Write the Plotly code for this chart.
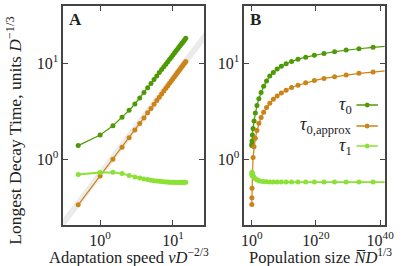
import plotly.graph_objects as go

# ---------------- data ----------------
v_A = [0.5, 1.0, 1.5, 2.0, 2.5, 3.0, 3.5, 4.0, 4.5, 5.0, 5.5, 6.0, 6.5, 7.0, 7.5,
       8.0, 8.5, 9.0, 9.5, 10.0, 10.5, 11.0, 11.5, 12.0, 12.5, 13.0, 13.5, 14.0, 14.5, 15.0]
tau0_A = [1.39, 1.79, 2.24, 2.74, 3.24, 3.77, 4.35, 4.96, 5.56, 6.17, 6.78, 7.38, 8.0, 8.6, 9.2,
          9.8, 10.4, 11.0, 11.6, 12.2, 12.8, 13.4, 14.0, 14.6, 15.2, 15.8, 16.4, 17.0, 17.6, 18.2]
tau0approx_A = [0.336, 0.67, 1.0, 1.34, 1.68, 2.02, 2.36, 2.70, 3.05, 3.39, 3.74, 4.09, 4.44, 4.79, 5.14,
                5.49, 5.84, 6.19, 6.55, 6.90, 7.25, 7.61, 7.96, 8.32, 8.67, 9.03, 9.39, 9.75, 10.1, 10.46]
tau1_A = [0.695, 0.729, 0.733, 0.711, 0.679, 0.655, 0.638, 0.625, 0.615, 0.607, 0.600, 0.594, 0.590, 0.586, 0.583,
          0.581, 0.579, 0.578, 0.577, 0.576, 0.576, 0.575, 0.575, 0.575, 0.575, 0.576, 0.576, 0.577, 0.577, 0.578]
guide_v = [0.2, 40.0]
guide_tau = [0.14, 28.0]

log10_N_B = [0, 0.02, 0.08, 0.2, 0.4, 0.7, 1.1, 1.6, 2.2, 2.9, 3.7, 4.6, 5.6, 6.7, 7.9,
             9.2, 10.7, 12.4, 14.4, 16.8, 19.5, 22.5, 25.8, 29.4, 33.4, 37.8, 42.5]
tau0_B = [1.396, 1.445, 1.549, 1.791, 2.089, 2.512, 3.041, 3.631, 4.266, 4.955, 5.754, 6.531, 7.362, 8.035,
          8.710, 9.311, 9.886, 10.45, 11.04, 11.59, 12.13, 12.65, 13.21, 13.77, 14.19, 14.69, 15.14]
tau0approx_B = [0.339, 0.398, 0.501, 0.676, 1.047, 1.349, 1.660, 1.995, 2.371, 2.723, 3.090, 3.467, 3.846,
                4.217, 4.571, 4.898, 5.248, 5.598, 5.916, 6.266, 6.607, 6.966, 7.244, 7.551, 7.870, 8.110, 8.414]
tau1_B = [0.698, 0.724, 0.733, 0.708, 0.676, 0.649, 0.627, 0.611, 0.600, 0.592, 0.586, 0.583, 0.581, 0.579,
          0.579, 0.579, 0.579, 0.579, 0.579, 0.579, 0.579, 0.579, 0.579, 0.579, 0.579, 0.579, 0.579]
N_B = [10 ** e for e in log10_N_B]

series_names = ["<i>τ</i><sub>0</sub>", "<i>τ</i><sub>0,approx</sub>", "<i>τ</i><sub>1</sub>"]
series_colors = ["#4e9a06", "#cc8418", "#8ae234"]
series_widths = [1.2, 1.2, 1.8]

# ---------------- layout helpers ----------------
W, H = 415, 266
def px(x):
    return x / W
def py(y):
    return 1 - y / H

FONT = "Liberation Serif"
AX = "#444444"
TXT = "#222222"

fig = go.Figure()

fig.add_trace(go.Scatter(x=guide_v, y=guide_tau, mode="lines",
                         line=dict(color="#ebebeb", width=6), xaxis="x", yaxis="y",
                         showlegend=False, hoverinfo="skip"))

A_series = [tau0_A, tau0approx_A, tau1_A]
B_series = [tau0_B, tau0approx_B, tau1_B]
for name, col, lw, ya, yb in zip(series_names, series_colors, series_widths, A_series, B_series):
    fig.add_trace(go.Scatter(x=v_A, y=ya, mode="lines+markers", name=name,
                             line=dict(color=col, width=lw), marker=dict(color=col, size=5),
                             xaxis="x", yaxis="y", showlegend=False))
    fig.add_trace(go.Scatter(x=N_B, y=yb, mode="lines+markers", name=name,
                             line=dict(color=col, width=lw), marker=dict(color=col, size=5),
                             xaxis="x2", yaxis="y2", showlegend=False))

ydom = [py(225), py(6)]
common_axis = dict(type="log", showline=True, linecolor=AX, linewidth=1.5, mirror="allticks",
                   ticks="inside", ticklen=5, tickwidth=1.2, tickcolor=AX, showgrid=False,
                   zeroline=False, tickfont=dict(family=FONT, size=16, color=TXT))

ytickvals = [1, 10]
ytext = ["10<sup>0</sup>", "10<sup>1</sup>"]

fig.update_layout(
    width=W, height=H, margin=dict(l=0, r=0, t=0, b=0),
    paper_bgcolor="white", plot_bgcolor="white",
    font=dict(family=FONT, size=17, color=TXT),
    xaxis=dict(common_axis, domain=[px(62), px(207)], range=[-0.507, 1.427],
               tickvals=[1, 10], ticktext=["10<sup>0</sup>", "10<sup>1</sup>"], anchor="y"),
    yaxis=dict(common_axis, domain=ydom, range=[-0.684, 1.597],
               tickvals=ytickvals, ticktext=ytext, anchor="x"),
    xaxis2=dict(common_axis, domain=[px(248.5), px(393)], range=[-2.33, 41.4],
                tickvals=[1, 1e20, 1e40], ticktext=["10<sup>0</sup>", "10<sup>20</sup>", "10<sup>40</sup>"],
                anchor="y2"),
    yaxis2=dict(common_axis, domain=ydom, range=[-0.684, 1.597],
                tickvals=ytickvals, ticktext=ytext, anchor="x2"),
)

def label(x, y, text, size=17.5, xanchor="center", yanchor="middle", angle=0):
    return dict(x=px(x), y=py(y), xref="paper", yref="paper", showarrow=False,
                xanchor=xanchor, yanchor=yanchor, textangle=angle, text=text,
                font=dict(family=FONT, size=size, color=TXT))

ann = [
    label(11, 131, "Longest Decay Time, units <i>D</i><sup>−1/3</sup>", angle=-90),
    label(130, 256, "Adaptation speed <i>vD</i><sup>−2/3</sup>", size=16.5),
    label(327, 256, "Population size <i>N\u0305D</i><sup>1/3</sup>", size=16.5),
    label(66, 8, "<b>A</b>", size=17, xanchor="left", yanchor="top"),
    label(252, 8, "<b>B</b>", size=17, xanchor="left", yanchor="top"),
]

# legend: text on the left, sample line with a dot on the right
shapes = []
legend_rows = [105, 126, 146]
for name, col, row in zip(series_names, series_colors, legend_rows):
    ann.append(label(361, row, name, size=18, xanchor="right", yanchor="middle"))
    shapes.append(dict(type="line", xref="paper", yref="paper", x0=px(364), x1=px(386),
                       y0=py(row), y1=py(row), line=dict(color=col, width=1.5)))
    shapes.append(dict(type="circle", xref="paper", yref="paper", x0=px(372.5), x1=px(377.5),
                       y0=py(row + 2.5), y1=py(row - 2.5), fillcolor=col, line=dict(color=col, width=0)))

fig.update_layout(annotations=ann, shapes=shapes)

fig.write_html("out.html", config={"displayModeBar": False},
               post_script="document.body.style.margin='0';")
